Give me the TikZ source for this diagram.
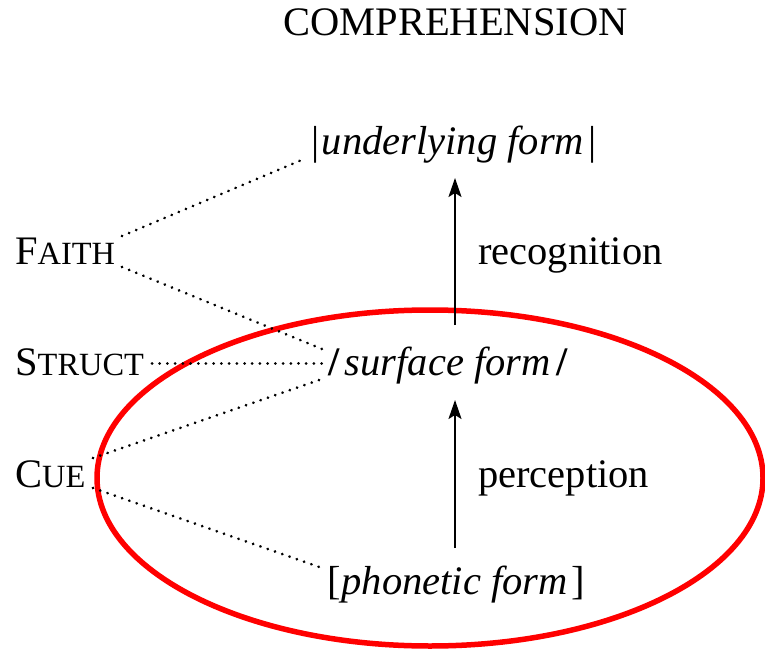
\documentclass[tikz,border=0pt]{standalone}
\usepackage{fontspec}
\setmainfont{Liberation Serif}[ItalicFont={Liberation Serif Italic},BoldFont={Liberation Serif Bold}]
\usetikzlibrary{arrows.meta}
\newcommand{\smcp}[2]{#1{\fontsize{32.4}{36}\selectfont #2}}
\begin{document}
\begin{tikzpicture}[x=1pt,y=-1pt,
  lbl/.style={inner sep=0pt,font=\fontsize{40.5}{48}\selectfont},
  dots/.style={line width=3pt,dash pattern=on 0.01pt off 7.7pt,line cap=round},
  arr/.style={line width=2pt,-{Stealth[length=19pt,width=13pt,inset=4pt]}},
  ring/.style={draw=red,line width=5.5pt}]
\useasboundingbox (0,0) rectangle (765,652);
\draw[ring] (430,478) ellipse [x radius=333, y radius=168];

\node[lbl,anchor=base] (title) at (455.5,36) {COMPREHENSION};
\node[lbl,anchor=base] (uf) at (454,155) {|\kern2pt\textit{underlying form}\/\kern4pt|};
\node[lbl,anchor=base west] (sf) at (328,375) {\textbf{/}\kern5pt\textit{surface form}\/\kern6pt\textbf{/}};
\node[lbl,anchor=base west] (pf) at (327,594) {[\kern1pt\textit{phonetic form}\/\kern4pt]};

\node[lbl,anchor=base west] (faith) at (15,265) {\smcp{F}{AITH}};
\node[lbl,anchor=base west] (struct) at (15,375) {\smcp{S}{TRUCT}};
\node[lbl,anchor=base west] (cue) at (15,487) {\smcp{C}{UE}};

\node[lbl,anchor=base west] (recog) at (478,265) {recognition};
\node[lbl,anchor=base west] (percep) at (478,487) {perception};

\coordinate (a1) at (455,325);
\coordinate (a2) at (455,178);
\coordinate (b1) at (455,548);
\coordinate (b2) at (455,400);
\draw[arr] (a1) -- (a2);
\draw[arr] (b1) -- (b2);

\coordinate (fU) at (122,236);
\coordinate (fL) at (122,267);
\coordinate (sR) at (152,363);
\coordinate (cU) at (93,458);
\coordinate (cL) at (93,488);
\coordinate (uL) at (304,159);
\coordinate (sL1) at (322,349);
\coordinate (sL2) at (325,363);
\coordinate (sL3) at (325,378);
\coordinate (pL) at (325,569);
\draw[dots] (fU) -- (uL);
\draw[dots] (fL) -- (sL1);
\draw[dots] (sR) -- (sL2);
\draw[dots] (cU) -- (sL3);
\draw[dots] (cL) -- (pL);
\end{tikzpicture}
\end{document}
